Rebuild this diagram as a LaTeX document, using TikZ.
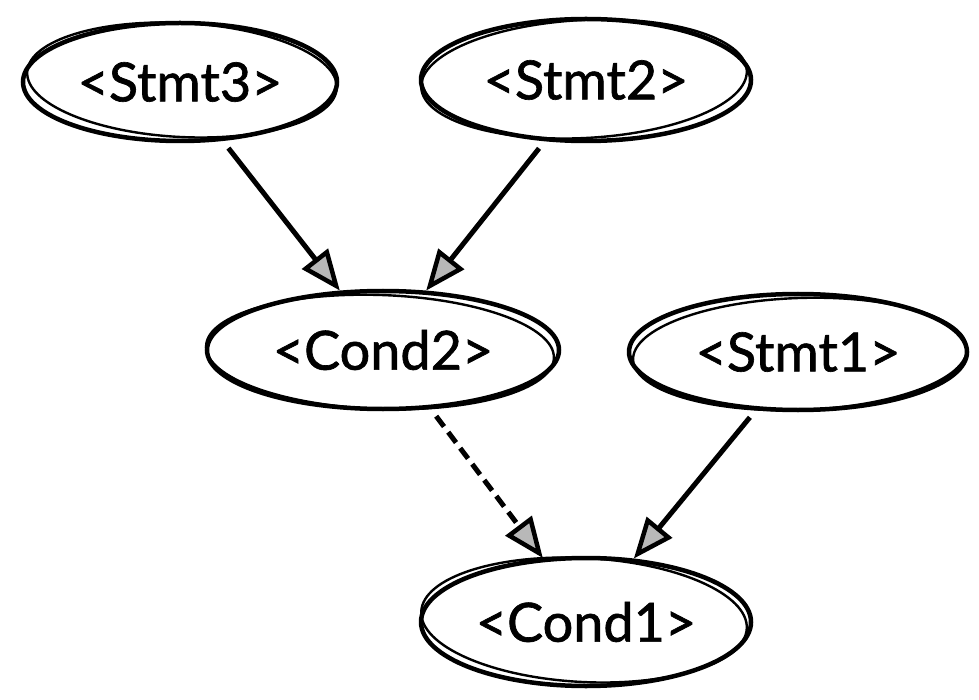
\documentclass[tikz,border=0pt]{standalone}
\usepackage{fontspec}
\setmainfont{Lato}
\newfontfamily\labelfont{Lato}[FakeBold=1.2]
\usetikzlibrary{shapes.geometric,arrows.meta}
\tikzset{
  blob/.style={ellipse, draw=black, line width=4.5pt, inner sep=0pt,
    font=\labelfont\fontsize{54}{60}\selectfont},
  sketch/.style={draw=black, line width=2.4pt},
  tip/.tip={Triangle[length=30pt,width=24pt,fill=black!28,line width=4.5pt,scale=1.35]},
  link/.style={draw=black, line width=5pt, shorten <=9pt, -tip},
  dlink/.style={link, dash pattern=on 13pt off 7pt}}
\begin{document}
\begin{tikzpicture}[x=1pt,y=-1pt]
\useasboundingbox (0,0) rectangle (979,700);
\node[blob, minimum width=314pt, minimum height=118pt] (s3) at (180,82) {<Stmt3>};
\node[blob, minimum width=330pt, minimum height=122pt] (s2) at (586,80) {<Stmt2>};
\node[blob, minimum width=352pt, minimum height=118pt] (c2) at (383,350) {<Cond2>};
\node[blob, minimum width=338pt, minimum height=116pt] (s1) at (798,352) {<Stmt1>};
\node[blob, minimum width=330pt, minimum height=128pt] (c1) at (586,622) {<Cond1>};
% second hand-drawn strokes
\draw[sketch] ([xshift=2pt,yshift=2pt]s3.center) ellipse [x radius=155, y radius=57, rotate=-3];
\draw[sketch] ([xshift=-2pt,yshift=1pt]s2.center) ellipse [x radius=163, y radius=59, rotate=3];
\draw[sketch] ([xshift=-3pt,yshift=-2pt]c2.center) ellipse [x radius=174, y radius=57, rotate=-2];
\draw[sketch] ([xshift=2pt,yshift=-2pt]s1.center) ellipse [x radius=167, y radius=56, rotate=2];
\draw[sketch] ([xshift=-2pt,yshift=2pt]c1.center) ellipse [x radius=163, y radius=62, rotate=-3];
% connectors
\draw[link] (s3.-54) -- (c2.126);
\draw[link] (s2.-124) -- (c2.54);
\draw[dlink] (c2.-51) -- (c1.124);
\draw[link] (s1.-126) -- (c1.53);
\end{tikzpicture}
\end{document}
